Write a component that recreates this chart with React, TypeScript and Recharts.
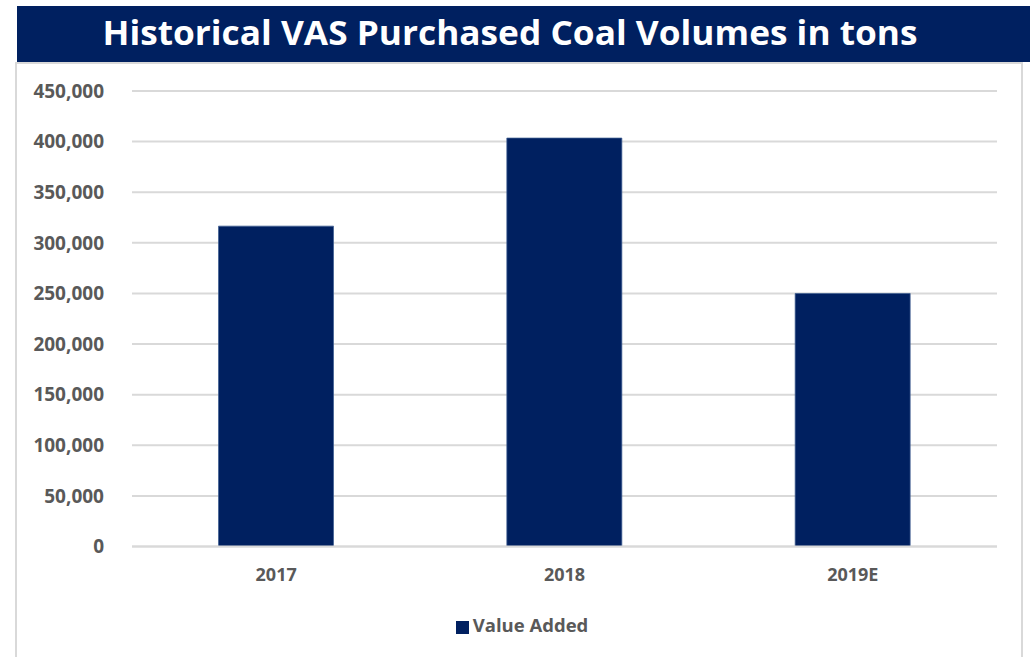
import { Bar, BarChart, CartesianGrid, Legend, XAxis, YAxis } from "recharts";

const years = ["2017", "2018", "2019E"];
const valueAdded = [316500, 403500, 250000];
const yTicks = [0, 50000, 100000, 150000, 200000, 250000, 300000, 350000, 400000, 450000];

const data = years.map((year, i) => ({ year, valueAdded: valueAdded[i] }));

const navy = "#002060";
const grey = "#595959";
const font = "'Open Sans', sans-serif";

export default function App() {
  return (
    <div style={{ position: "absolute", left: 0, top: 0, width: 1030, height: 657, background: "#fff", overflow: "hidden", fontFamily: font }}>
      <div style={{ position: "absolute", left: 17, top: 6, width: 1013, height: 56, background: navy }}>
        <svg width={1013} height={56} style={{ display: "block" }}>
          <text x={85.5} y={39} textLength={815} lengthAdjust="spacingAndGlyphs" fill="#fff" fontFamily={font} fontWeight={700} fontSize={34}>
            Historical VAS Purchased Coal Volumes in tons
          </text>
        </svg>
      </div>
      <div style={{ position: "absolute", left: 15, top: 62, width: 1008, height: 600, border: "2px solid #d9d9d9", boxSizing: "border-box" }} />
      <div style={{ position: "absolute", left: 0, top: 0 }}>
        <BarChart width={1030} height={657} data={data} barCategoryGap="30%" margin={{ top: 91, right: 33, left: 32, bottom: 19 }}>
          <CartesianGrid vertical={false} stroke="#d9d9d9" strokeWidth={2} />
          <XAxis
            dataKey="year"
            height={65.5}
            tickSize={0}
            tickMargin={22}
            axisLine={{ stroke: "#d9d9d9", strokeWidth: 2 }}
            tick={{ fill: grey, fontSize: 18, fontWeight: 700, fontFamily: font }}
          />
          <YAxis
            width={100}
            domain={[0, 450000]}
            ticks={yTicks}
            interval={0}
            tickSize={0}
            tickMargin={28}
            axisLine={false}
            tick={{ fill: grey, fontSize: 19, fontWeight: 700, fontFamily: font }}
            tickFormatter={(v) => Number(v).toLocaleString("en-US")}
          />
          <Legend
            verticalAlign="bottom"
            iconType="square"
            iconSize={13}
            wrapperStyle={{ height: 26, lineHeight: "26px", left: 12, width: 1030, fontSize: 18.5, fontFamily: font }}
            formatter={(v) => <span style={{ color: grey, fontWeight: 700 }}>{v}</span>}
          />
          <Bar dataKey="valueAdded" name="Value Added" fill={navy} stroke="#3f5f92" strokeWidth={0.75} isAnimationActive={false} />
        </BarChart>
      </div>
    </div>
  );
}
